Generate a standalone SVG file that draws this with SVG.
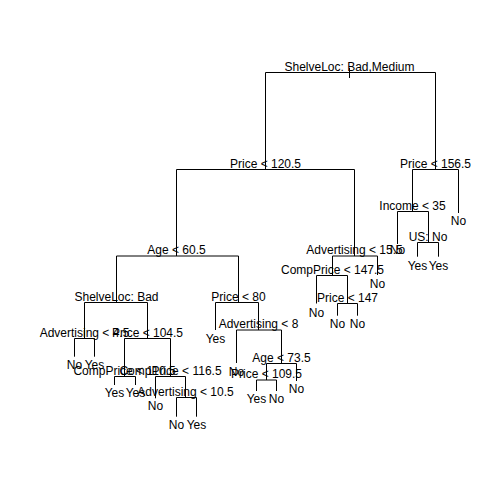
<svg xmlns="http://www.w3.org/2000/svg" width="504" height="504" viewBox="0 0 504 504">
<style>
.e{fill:none;stroke:#000;stroke-width:1}
text{font-family:"Liberation Sans",Arial,sans-serif;font-size:12px;fill:#000;text-anchor:middle}
</style>
<rect width="504" height="504" fill="#fff"/>
<g id="connectors">
<path class="e" d="M349.5 68V78"/>
<path class="e" d="M265.5 169.5V72.5H435.5V169.5"/>
<path class="e" d="M176.5 256V169.5H354.5V256"/>
<path class="e" d="M412.5 211.5V169.5H458.5V213"/>
<path class="e" d="M397.5 244V211.5H428.5V242.5"/>
<path class="e" d="M417.5 256.7V242.5H438.5V256.7"/>
<path class="e" d="M332.5 275.5V256H377.5V275"/>
<path class="e" d="M316.5 303.5V275.5H347.5V303.5"/>
<path class="e" d="M337.5 315.7V303.5H357.5V315.7"/>
<path class="e" d="M116.5 302.5V256H238.5V302.5"/>
<path class="e" d="M84.5 338.5V302.5H147.5V338.5"/>
<path class="e" d="M74.5 356.7V338.5H94.5V356.7"/>
<path class="e" d="M124.5 376.5V338.5H170.5V376.5"/>
<path class="e" d="M114.5 385V376.5H135.5V385"/>
<path class="e" d="M155.5 398.3V376.5H185.5V397.5"/>
<path class="e" d="M176.5 416.7V397.5H196.5V416.7"/>
<path class="e" d="M215.5 330V302.5H258.5V330"/>
<path class="e" d="M236.5 363V330H281.5V363.5"/>
<path class="e" d="M266.5 380V363.5H296.5V381"/>
<path class="e" d="M256.5 391V380H276.5V391"/>
</g>
<g id="n_root"><text x="349.5" y="70.5">ShelveLoc: Bad,Medium</text></g>
<g id="n_price120"><text x="265.5" y="167.5">Price &lt; 120.5</text></g>
<g id="n_price156"><text x="435.5" y="167.5">Price &lt; 156.5</text></g>
<g id="n_income35"><text x="412.5" y="210">Income &lt; 35</text></g>
<g id="n_us"><text x="428" y="240.5">US: No</text></g>
<g id="n_adv15"><text x="354.5" y="254">Advertising &lt; 15.5</text></g>
<g id="n_comp147"><text x="332.5" y="273.5">CompPrice &lt; 147.5</text></g>
<g id="n_price147"><text x="347.5" y="301.5">Price &lt; 147</text></g>
<g id="n_age60"><text x="176.5" y="254">Age &lt; 60.5</text></g>
<g id="n_shelvebad"><text x="116.5" y="300.5">ShelveLoc: Bad</text></g>
<g id="n_adv4"><text x="84.5" y="336.5">Advertising &lt; 4.5</text></g>
<g id="n_price104"><text x="147.5" y="336.5">Price &lt; 104.5</text></g>
<g id="n_comp110"><text x="124.5" y="375">CompPrice &lt; 110.5</text></g>
<g id="n_comp116"><text x="170.5" y="375">CompPrice &lt; 116.5</text></g>
<g id="n_adv10"><text x="185.5" y="395.5">Advertising &lt; 10.5</text></g>
<g id="n_price80"><text x="238.5" y="301">Price &lt; 80</text></g>
<g id="n_adv8"><text x="258.5" y="328">Advertising &lt; 8</text></g>
<g id="n_age73"><text x="281.5" y="362">Age &lt; 73.5</text></g>
<g id="n_price109"><text x="266.5" y="378">Price &lt; 109.5</text></g>
<g id="leaf1"><text x="458.5" y="225">No</text></g>
<g id="leaf2"><text x="397.5" y="254">No</text></g>
<g id="leaf3"><text x="417.5" y="270">Yes</text></g>
<g id="leaf4"><text x="438.5" y="270">Yes</text></g>
<g id="leaf5"><text x="377.5" y="287.7">No</text></g>
<g id="leaf6"><text x="316.5" y="316.7">No</text></g>
<g id="leaf7"><text x="337.5" y="327.7">No</text></g>
<g id="leaf8"><text x="357.5" y="327.7">No</text></g>
<g id="leaf9"><text x="74.5" y="368.5">No</text></g>
<g id="leaf10"><text x="94.5" y="368.5">Yes</text></g>
<g id="leaf11"><text x="114.5" y="397">Yes</text></g>
<g id="leaf12"><text x="135.5" y="397">Yes</text></g>
<g id="leaf13"><text x="155.5" y="410">No</text></g>
<g id="leaf14"><text x="176.5" y="429">No</text></g>
<g id="leaf15"><text x="196.5" y="429">Yes</text></g>
<g id="leaf16"><text x="215.5" y="342.7">Yes</text></g>
<g id="leaf17"><text x="236.5" y="376">No</text></g>
<g id="leaf18"><text x="296.5" y="393.3">No</text></g>
<g id="leaf19"><text x="256.5" y="403.3">Yes</text></g>
<g id="leaf20"><text x="276.5" y="403.3">No</text></g>
</svg>
